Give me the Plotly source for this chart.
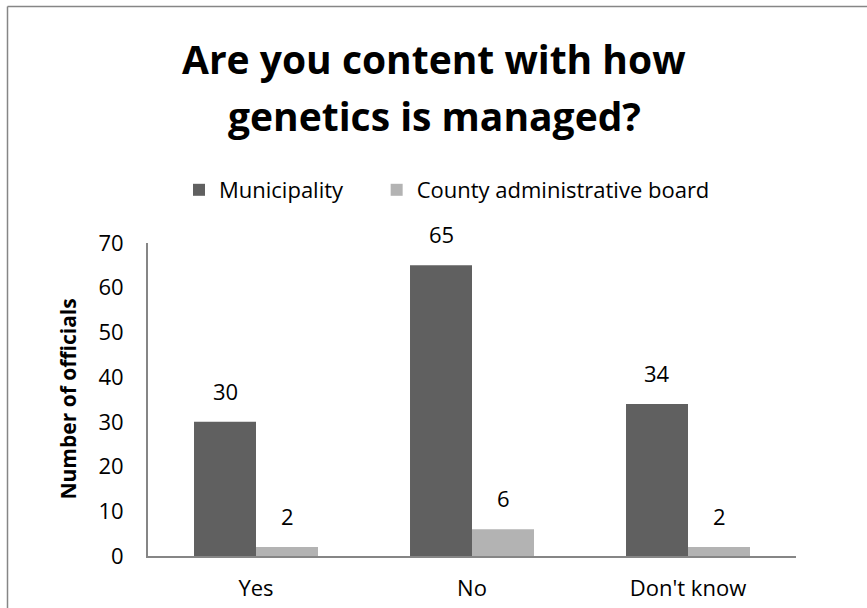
import plotly.graph_objects as go

categories = ["Yes", "No", "Don't know"]
municipality = [30, 65, 34]
county_board = [2, 6, 2]
series_names = ["Municipality", "County administrative board"]
y_ticks = [0, 10, 20, 30, 40, 50, 60, 70]
title_lines = ["Are you content with how", "genetics is managed?"]
y_title = "Number of officials"

FONT = "Open Sans"
DARK = "#606060"
LIGHT = "#B3B3B3"
AXIS = "#868686"

# pixel layout of plot area
L, R, T, B = 148, 796, 243, 556
W, H = 867, 608
pw, ph = R - L, B - T

def px_x(x):
    return (x - L) / pw

def px_y(y):
    return (B - y) / ph

PAD = "\u00a0" * 5

fig = go.Figure()
fig.add_trace(go.Bar(x=categories, y=municipality, name=series_names[0] + PAD,
                     marker=dict(color=DARK, line=dict(width=0))))
fig.add_trace(go.Bar(x=categories, y=county_board, name=series_names[1],
                     marker=dict(color=LIGHT, line=dict(width=0))))

annotations = []
for vals, shift in ((municipality, -31), (county_board, 31)):
    for c, v in zip(categories, vals):
        annotations.append(dict(x=c, y=v, xref="x", yref="y", text=str(v),
                                showarrow=False, xshift=shift, yanchor="bottom",
                                yshift=14, font=dict(family=FONT, size=22, color="#000")))

annotations.append(dict(x=px_x(67), y=0.5, xref="paper", yref="paper",
                        text="<b>" + y_title + "</b>", textangle=-90, xanchor="center",
                        yanchor="middle",
                        showarrow=False, font=dict(family=FONT, size=21, color="#000")))

for line, yc in zip(title_lines, (59, 115)):
    annotations.append(dict(x=px_x(434), y=px_y(yc), xref="paper", yref="paper",
                            text="<b>" + line + "</b>", xanchor="center",
                            showarrow=False, yanchor="middle",
                            font=dict(family=FONT, size=39, color="#000")))

fig.update_layout(
    width=W, height=H,
    margin=dict(l=L, r=W - R, t=T, b=H - B, autoexpand=False),
    paper_bgcolor="white", plot_bgcolor="white",
    barmode="group", bargap=0.426, bargroupgap=0,
    showlegend=True,
    legend=dict(orientation="h", x=px_x(447), y=px_y(190), xanchor="center",
                yanchor="middle", font=dict(family=FONT, size=22, color="#000"),
                itemwidth=30, tracegroupgap=0),
    annotations=annotations,
    shapes=[
        dict(type="line", xref="paper", yref="paper",
             x0=px_x(7.5), x1=px_x(7.5), y0=px_y(700), y1=px_y(6.5),
             line=dict(color=AXIS, width=1.5), layer="below"),
        dict(type="line", xref="paper", yref="paper",
             x0=px_x(7.5), x1=px_x(1000), y0=px_y(6.5), y1=px_y(6.5),
             line=dict(color=AXIS, width=1.5), layer="below"),
    ],
    xaxis=dict(showline=True, linecolor=AXIS, linewidth=2, ticks="",
               tickfont=dict(family=FONT, size=22, color="#000"), automargin=False,
               ticklabelstandoff=12, showgrid=False, zeroline=False),
    yaxis=dict(range=[0, 70], tickvals=y_ticks, showline=True, linecolor=AXIS,
               linewidth=2, ticks="", showgrid=False, zeroline=False, automargin=False,
               tickfont=dict(family=FONT, size=22, color="#000"),
               ticklabelstandoff=18),
)

fig.write_html("out.html")
